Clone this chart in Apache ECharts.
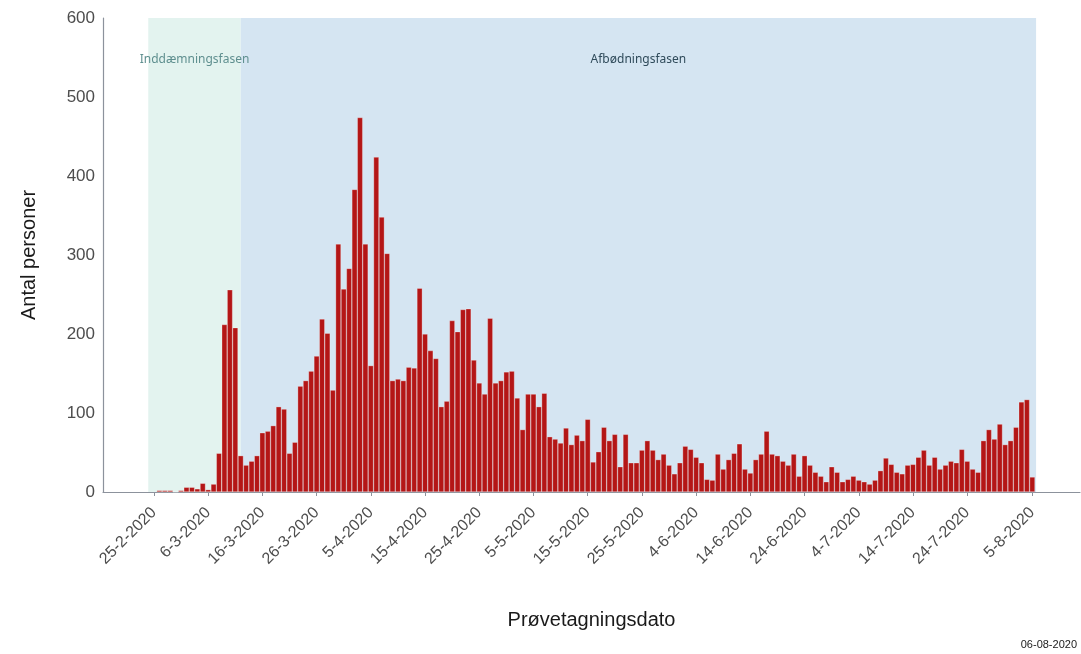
<!DOCTYPE html>
<html>
<head>
<meta charset="utf-8">
<script src="https://cdn.jsdelivr.net/npm/echarts@6/dist/echarts.min.js"></script>
<style>
  html, body { margin: 0; padding: 0; background: #fff; }
  #chart { width: 1081px; height: 654px; }
</style>
</head>
<body>
<div id="chart"></div>
<script>
// daily counts, first value is 26-2-2020
const firstDay = "26-2-2020";
const counts = [
  2, 2, 2, 0, 2, 6, 6, 4, 11, 3,
  10, 49, 212, 256, 208, 46, 34, 39, 46, 75,
  77, 84, 108, 105, 49, 63, 134, 141, 153, 172,
  219, 201, 129, 314, 257, 283, 383, 474, 314, 160,
  424, 348, 302, 141, 143, 141, 158, 157, 258, 200,
  179, 169, 108, 115, 217, 203, 231, 232, 167, 138,
  124, 220, 138, 141, 152, 153, 119, 79, 124, 124,
  108, 125, 70, 67, 62, 81, 60, 72, 65, 92,
  38, 51, 82, 65, 73, 32, 73, 37, 37, 53,
  65, 53, 41, 48, 34, 23, 37, 58, 54, 44,
  37, 16, 15, 48, 29, 41, 49, 61, 29, 24,
  41, 48, 77, 48, 46, 39, 34, 48, 20, 46,
  34, 25, 20, 13, 32, 25, 13, 16, 20, 15,
  13, 10, 15, 27, 43, 35, 25, 23, 34, 35,
  44, 53, 34, 44, 29, 34, 39, 37, 54, 39,
  29, 25, 65, 79, 67, 86, 60, 65, 82, 114,
  117, 19
];
const tickLabels = [
  "25-2-2020", "6-3-2020", "16-3-2020", "26-3-2020", "5-4-2020", "15-4-2020",
  "25-4-2020", "5-5-2020", "15-5-2020", "25-5-2020", "4-6-2020", "14-6-2020",
  "24-6-2020", "4-7-2020", "14-7-2020", "24-7-2020", "5-8-2020"
];
const phases = [
  { name: "Inddæmningsfasen", from: "24-2-2020", to: "12-3-2020" },
  { name: "Afbødningsfasen", from: "12-3-2020", to: "5-8-2020" }
];

// day number relative to the first tick
function dayNum(s) {
  const p = s.split("-").map(Number);
  return Date.UTC(p[2], p[1] - 1, p[0]) / 86400000;
}
const base = dayNum(tickLabels[0]);
const off = s => dayNum(s) - base;

const start = off(firstDay);
const barData = counts.map((v, i) => [start + i, v]);
const tickPos = tickLabels.map(off);
const labelOf = {};
tickLabels.forEach((t, i) => (labelOf[tickPos[i]] = t));

const chart = echarts.init(document.getElementById("chart"));
chart.setOption({
  animation: false,
  textStyle: { fontFamily: "Liberation Sans, Arial, sans-serif" },
  grid: { left: 103, right: 1, top: 18, bottom: 162 },
  xAxis: {
    type: "value",
    min: -9.4,
    max: 170.8,
    name: "Prøvetagningsdato",
    nameLocation: "middle",
    nameGap: 118,
    nameTextStyle: { fontSize: 20, color: "#1a1a1a" },
    splitLine: { show: false },
    axisLine: { onZero: false, lineStyle: { color: "#8c929c", width: 1.2 } },
    axisTick: { show: true, length: 4, customValues: tickPos, lineStyle: { color: "#8c929c" } },
    axisLabel: {
      customValues: tickPos,
      rotate: 45,
      fontSize: 16,
      color: "#4d4d4d",
      margin: 18,
      formatter: v => labelOf[v] || ""
    }
  },
  yAxis: {
    type: "value",
    min: 0,
    max: 600,
    interval: 100,
    name: "Antal personer",
    nameLocation: "middle",
    nameGap: 64,
    nameTextStyle: { fontSize: 20, color: "#1a1a1a" },
    splitLine: { show: false },
    axisLine: { show: true, onZero: false, lineStyle: { color: "#8c929c", width: 1.2 } },
    axisTick: { show: false },
    axisLabel: { fontSize: 17, color: "#4d4d4d", margin: 8 }
  },
  series: [
    {
      type: "bar",
      data: barData,
      barWidth: 5.4,
      itemStyle: { color: "#b41616", borderColor: "rgba(255,255,255,0.55)", borderWidth: 0.5 },
      markArea: {
        silent: true,
        data: phases.map((p, i) => [
          {
            xAxis: i === 0 ? off(p.from) - 0.05 : off(p.from),
            name: p.name,
            itemStyle: { color: i === 0 ? "#e3f3ef" : "#d5e5f2" },
            label: {
              show: true,
              position: "insideTop",
              distance: 36,
              fontSize: 12,
              fontFamily: "Noto Sans, DejaVu Sans, sans-serif",
              color: i === 0 ? "#5f8f8f" : "#2f4a5a"
            }
          },
          { xAxis: i === 0 ? off(p.to) : off(p.to) + 0.7 }
        ])
      }
    }
  ],
  graphic: [
    {
      type: "text",
      right: 4,
      bottom: 4,
      style: { text: "06-08-2020", fontSize: 11, fill: "#1a1a1a", fontFamily: "Liberation Sans, Arial, sans-serif" }
    }
  ]
});
</script>
</body>
</html>
